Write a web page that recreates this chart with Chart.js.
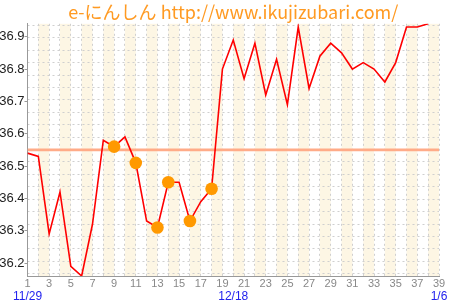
<!DOCTYPE html>
<html>
<head>
<meta charset="utf-8">
<script src="https://cdn.jsdelivr.net/npm/chart.js@4/dist/chart.umd.min.js"></script>
<style>
  html, body { margin: 0; padding: 0; background: #fff; }
  #wrap { width: 450px; height: 300px; }
</style>
</head>
<body>
<div id="wrap"><canvas id="chart" width="450" height="300"></canvas></div>
<script>
const TITLE = "e-にんしん http://www.ikujizubari.com/";
// basal temperature, day 1 .. 38
const TEMPS = [
  36.54, 36.53, 36.29, 36.42, 36.19, 36.16, 36.32, 36.58, 36.56, 36.59,
  36.51, 36.33, 36.31, 36.45, 36.45, 36.33, 36.39, 36.43, 36.80, 36.89,
  36.77, 36.88, 36.72, 36.83, 36.69, 36.93, 36.74, 36.84, 36.88, 36.85,
  36.80, 36.82, 36.80, 36.76, 36.82, 36.93, 36.93, 36.94
];
const MARK_DAYS = [9, 11, 13, 14, 16, 18];
const COVERLINE = 36.55;
const FIRST_DAY = 1, LAST_DAY = 39;
const Y_MIN = 36.16, Y_MAX = 36.94;
const DATE_DAYS = [1, 20, 39];
const DATE_LABELS = ["11/29", "12/18", "1/6"];

const tempPts = TEMPS.map((t, i) => ({ x: i + 1, y: t }));
const markPts = MARK_DAYS.map(d => ({ x: d, y: TEMPS[d - 1] }));
const coverPts = [{ x: FIRST_DAY, y: COVERLINE }, { x: LAST_DAY, y: COVERLINE }];

// cream stripes on every other day column
const bands = {
  id: "bands",
  beforeDraw(chart) {
    const { ctx, chartArea: a, scales: { x } } = chart;
    ctx.save();
    ctx.fillStyle = "#fdf6e4";
    for (let d = FIRST_DAY + 1; d < LAST_DAY; d += 2) {
      const l = x.getPixelForValue(d), r = x.getPixelForValue(d + 1);
      ctx.fillRect(l, a.top, r - l, a.bottom - a.top);
    }
    ctx.restore();
  }
};

const narrow = "'Liberation Sans Narrow', 'Liberation Sans', Arial, sans-serif";

new Chart(document.getElementById("chart"), {
  type: "line",
  data: {
    datasets: [
      { data: markPts, showLine: false, pointRadius: 6.3, pointBackgroundColor: "#ff9900",
        pointBorderWidth: 0, order: 0 },
      { data: tempPts, borderColor: "#ff0000", borderWidth: 1.6, pointRadius: 0,
        tension: 0, order: 1 },
      { data: coverPts, borderColor: "#ffab88", borderWidth: 2.6, pointRadius: 0, order: 2 }
    ]
  },
  options: {
    responsive: false,
    animation: false,
    devicePixelRatio: 1,
    layout: { padding: { right: 11 } },
    plugins: {
      legend: { display: false },
      tooltip: { enabled: false },
      title: {
        display: true, text: TITLE, fullSize: false, color: "#ff9a22",
        font: { family: "'Noto Sans CJK JP', 'Noto Sans', sans-serif", size: 18, weight: "normal", lineHeight: 1.1 },
        padding: { top: 2, bottom: 2 }
      }
    },
    scales: {
      x: {
        type: "linear", min: FIRST_DAY, max: LAST_DAY,
        afterFit: s => { s.height = 13; },
        ticks: {
          stepSize: 1, autoSkip: false, maxRotation: 0, padding: 1,
          color: "#888", font: { family: narrow, size: 11 },
          callback: v => (v % 2 === 1 ? String(v) : "")
        },
        grid: { color: "#cfcfcf", drawTicks: false },
        border: { color: "#999", dash: [2, 3] }
      },
      x2: {
        type: "linear", min: FIRST_DAY, max: LAST_DAY, position: "bottom",
        afterFit: s => { s.height = 11; },
        afterBuildTicks: s => { s.ticks = DATE_DAYS.map(v => ({ value: v })); },
        ticks: {
          autoSkip: false, maxRotation: 0, padding: 0, color: "#2222ee",
          font: { family: "'Liberation Sans', Arial, sans-serif", size: 12 },
          callback: (v, i) => DATE_LABELS[i]
        },
        grid: { display: false, drawTicks: false },
        border: { display: false }
      },
      y: {
        min: Y_MIN, max: Y_MAX,
        afterFit: s => { s.width = 27.5; },
        ticks: {
          stepSize: 0.1, includeBounds: false, padding: 0, color: "#222",
          font: { family: narrow, size: 13 },
          callback: v => v.toFixed(1)
        },
        grid: { drawOnChartArea: false, tickLength: 3, tickColor: "#999" },
        border: { color: "#999" }
      },
      // independent dashed horizontal grid, as in the original sheet
      yg: {
        position: "right", reverse: true, min: -0.14, max: 20.19,
        afterFit: s => { s.width = 0; },
        afterBuildTicks: s => {
          const t = [];
          for (let k = 0; k <= 20; k++) t.push({ value: k });
          s.ticks = t;
        },
        ticks: { display: false },
        grid: { color: "#cfcfcf", drawTicks: false },
        border: { display: false, dash: [2, 3] }
      }
    }
  },
  plugins: [bands]
});
</script>
</body>
</html>
